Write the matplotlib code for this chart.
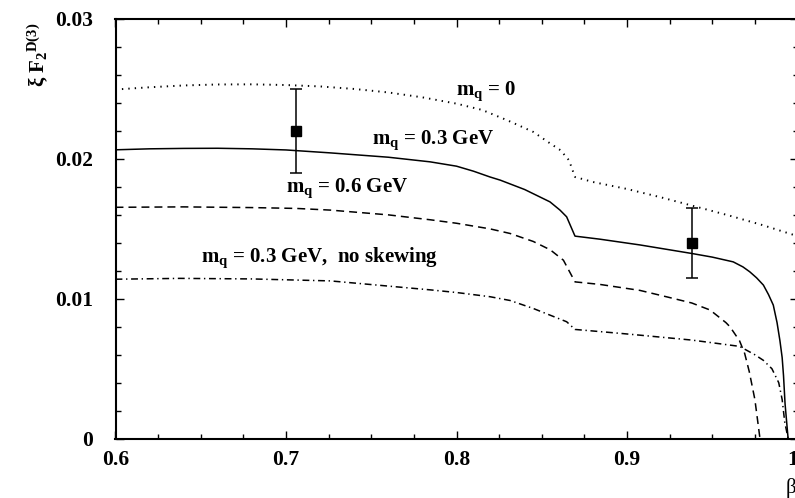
import matplotlib
matplotlib.use("Agg")
import matplotlib.pyplot as plt
import matplotlib.transforms as mtransforms

# ── data ─────────────────────────────────────────────────────────────────────
beta_m0 = [0.600, 0.620, 0.640, 0.660, 0.680, 0.700, 0.720, 0.740, 0.760,
           0.780, 0.800, 0.815, 0.830, 0.845, 0.855, 0.861, 0.866, 0.8695,
           0.880, 0.900, 0.920, 0.940, 0.960, 0.980, 1.000]
f2_m0 = [0.02496, 0.02512, 0.02525, 0.02532, 0.02533, 0.02528, 0.02518,
         0.02500, 0.02475, 0.02440, 0.02395, 0.02350, 0.02275, 0.02193,
         0.02110, 0.02062, 0.01990, 0.01871, 0.01835, 0.01785, 0.01725,
         0.01660, 0.01595, 0.01525, 0.01448]

beta_m03 = [0.600, 0.620, 0.640, 0.660, 0.680, 0.700, 0.726, 0.760, 0.7845,
            0.800, 0.810, 0.8196, 0.8257, 0.840, 0.8548, 0.8607, 0.8646,
            0.8695, 0.8842, 0.9076, 0.938, 0.950, 0.9623, 0.968, 0.972,
            0.976, 0.980, 0.983, 0.9858, 0.988, 0.9897, 0.991, 0.9918,
            0.9927, 0.9945]
f2_m03 = [0.02065, 0.02072, 0.02075, 0.02076, 0.02072, 0.02064, 0.02043,
          0.02012, 0.01979, 0.01948, 0.01912, 0.01871, 0.01848, 0.01781,
          0.01693, 0.01634, 0.01586, 0.01448, 0.01426, 0.01385, 0.01324,
          0.01298, 0.01264, 0.01228, 0.01193, 0.01150, 0.01098, 0.01030,
          0.00955, 0.00830, 0.00700, 0.00580, 0.00450, 0.00250, 0.0]

beta_m06 = [0.600, 0.640, 0.680, 0.706, 0.726, 0.760, 0.7845, 0.800,
            0.8196, 0.8314, 0.845, 0.855, 0.8627, 0.8695, 0.884, 0.9076,
            0.9233, 0.938, 0.9487, 0.958, 0.9604, 0.966, 0.969, 0.9717,
            0.975, 0.978]
f2_m06 = [0.01654, 0.01657, 0.01652, 0.01646, 0.01634, 0.01600, 0.01565,
          0.01540, 0.01500, 0.01467, 0.01410, 0.01350, 0.01276, 0.01121,
          0.01103, 0.01060, 0.01014, 0.00970, 0.00920, 0.00830, 0.00800,
          0.00700, 0.00610, 0.00480, 0.00280, 0.0]

beta_noskew = [0.600, 0.638, 0.680, 0.706, 0.726, 0.7845, 0.800, 0.8196,
               0.8314, 0.845, 0.8646, 0.8695, 0.896, 0.9076, 0.938, 0.966,
               0.975, 0.980, 0.985, 0.989, 0.991, 0.9925, 0.9945]
f2_noskew = [0.01140, 0.01146, 0.01142, 0.01134, 0.01128, 0.01064, 0.01045,
             0.01015, 0.00988, 0.00931, 0.00836, 0.00781, 0.00753, 0.00740,
             0.00705, 0.00660, 0.00600, 0.00560, 0.00500, 0.00400, 0.00280,
             0.00120, 0.0]

data_beta = [0.706, 0.938]
data_f2 = [0.0220, 0.0140]
data_err = [0.0030, 0.0025]

xticks = [0.6, 0.7, 0.8, 0.9, 1.0]
xticklabels = ["0.6", "0.7", "0.8", "0.9", "1"]
yticks = [0.0, 0.01, 0.02, 0.03]
yticklabels = ["0", "0.01", "0.02", "0.03"]

# ── style ─────────────────────────────────────────────────────────────────────
plt.rcParams["font.family"] = ["Liberation Serif", "DejaVu Serif"]
plt.rcParams["font.weight"] = "bold"
plt.rcParams["mathtext.default"] = "regular"

W, H = 795, 498
fig = plt.figure(figsize=(W / 100, H / 100), dpi=100)
ax = fig.add_axes([115.5 / W, (H - 438.7) / H, 682 / W, (438.7 - 19) / H])

lw = 1.1
ax.plot(beta_m0, f2_m0, color="black", lw=1.4, linestyle=(0, (0.7, 2.6)))
ax.plot(beta_m03, f2_m03, color="black", lw=lw, linestyle="-")
ax.plot(beta_m06, f2_m06, color="black", lw=lw, linestyle=(0, (5.2, 3.3)))
ax.plot(beta_noskew, f2_noskew, color="black", lw=lw,
        linestyle=(0, (4.5, 2.4, 0.9, 2.4)))
ax.errorbar(data_beta, data_f2, yerr=data_err, fmt="s", color="black",
            ms=7, elinewidth=1.1, capsize=4, capthick=1.1)

txt = dict(fontsize=15, fontweight="bold", va="center", ha="left")
ax.text(0.800, 0.0248, "m$_q$ = 0", **txt)
ax.text(0.7503, 0.0213, "m$_q$ = 0.3 GeV", **txt)
ax.text(0.700, 0.0179, "m$_q$ = 0.6 GeV", **txt)
ax.text(0.650, 0.0129, "m$_q$ = 0.3 GeV,  no skewing", **txt)

ax.set_xlim(0.6, 1.0)
ax.set_ylim(0.0, 0.03)
ax.set_xticks(xticks)
ax.set_xticklabels(xticklabels)
ax.set_yticks(yticks)
ax.set_yticklabels(yticklabels)
ax.set_xticks([0.6 + 0.025 * i for i in range(17)], minor=True)
ax.set_yticks([0.002 * i for i in range(16)], minor=True)
ax.tick_params(which="both", direction="in", top=True, right=True, width=1.0)
ax.tick_params(which="major", length=6)
ax.tick_params(which="minor", length=3.3)
ax.tick_params(axis="x", which="major", pad=8, labelsize=15.5)
ax.tick_params(axis="y", which="major", pad=16, labelsize=15.5)
for s in ax.spines.values():
    s.set_linewidth(1.5)

# the last x label sits at the cropped right edge; nudge it in a little
last = ax.get_xticklabels()[-1]
last.set_transform(last.get_transform() +
                   mtransforms.ScaledTranslation(-5 / 100, 0, fig.dpi_scale_trans))

fig.text(37 / W, 1 - 55 / H, "ξ F$_2{}^{D(3)}$", rotation=90,
         ha="center", va="center", fontsize=15, fontweight="bold")
fig.text(791 / W, 1 - 488 / H, "β", ha="center", va="center",
         fontsize=15, fontweight="normal")

fig.savefig("out.png", dpi=100)
